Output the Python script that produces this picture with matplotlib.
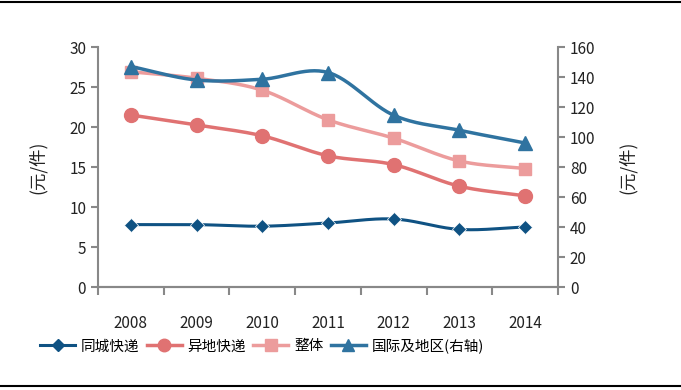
import matplotlib
matplotlib.use('Agg')
import matplotlib.pyplot as plt
import numpy as np

plt.rcParams['font.family'] = ['Noto Sans CJK SC', 'DejaVu Sans']

years = ['2008', '2009', '2010', '2011', '2012', '2013', '2014']
tongcheng = [7.8, 7.8, 7.6, 8.0, 8.5, 7.2, 7.5]          # 同城快递
yidi = [21.5, 20.25, 18.9, 16.4, 15.3, 12.6, 11.4]       # 异地快递
zhengti = [26.9, 26.1, 24.6, 20.9, 18.6, 15.75, 14.8]    # 整体
guoji = [147, 138, 138.5, 143, 114.5, 104.5, 96]         # 国际及地区(右轴)


def smooth(x, y, n=30):
    # catmull-rom style curve through the points (like excel "smoothed line")
    x = np.asarray(x, float)
    y = np.asarray(y, float)
    px = np.concatenate([[2*x[0]-x[1]], x, [2*x[-1]-x[-2]]])
    py = np.concatenate([[2*y[0]-y[1]], y, [2*y[-1]-y[-2]]])
    xs, ys = [], []
    t = np.linspace(0, 1, n)
    for i in range(1, len(px)-2):
        for arr, out in ((px, xs), (py, ys)):
            p0, p1, p2, p3 = arr[i-1], arr[i], arr[i+1], arr[i+2]
            out.extend(0.5*((2*p1) + (-p0+p2)*t + (2*p0-5*p1+4*p2-p3)*t**2
                            + (-p0+3*p1-3*p2+p3)*t**3))
    return xs, ys


fig = plt.figure(figsize=(6.81, 3.90), dpi=100)
ax = fig.add_axes([98/681, 1-287/390, 460/681, 240/390])
ax2 = ax.twinx()

x = np.arange(len(years))
c1 = '#0f5283'
c2 = '#e07272'
c3 = '#ec9c9c'
c4 = '#2f73a0'

ax.plot(*smooth(x, tongcheng), color=c1, lw=2.2)
ax.plot(x, tongcheng, 'D', color=c1, ms=7, mec='white', mew=0.5)
ax.plot(*smooth(x, yidi), color=c2, lw=2.5)
ax.plot(x, yidi, 'o', color=c2, ms=10)
ax.plot(*smooth(x, zhengti), color=c3, lw=2.5)
ax.plot(x, zhengti, 's', color=c3, ms=9)
ax2.plot(*smooth(x, guoji), color=c4, lw=2.5)
ax2.plot(x, guoji, '^', color=c4, ms=10)

ax.set_xlim(-0.5, 6.5)
ax.set_ylim(0, 30)
ax2.set_ylim(0, 160)
ax.set_yticks(range(0, 31, 5))
ax2.set_yticks(range(0, 161, 20))
ax.set_xticks(np.arange(-0.5, 7, 1))
ax.set_xticklabels([])
ax.set_xticks(x, minor=True)
ax.set_xticklabels(years, minor=True)

gray = '#888888'
for a in (ax, ax2):
    a.spines['top'].set_visible(False)
    for s in a.spines.values():
        s.set_color(gray)
        s.set_linewidth(1.5)
    a.tick_params(axis='y', colors=gray, width=1.5, length=5, labelcolor='#222222', labelsize=11)
ax.spines['right'].set_visible(False)
ax2.spines['left'].set_visible(False)
ax.tick_params(axis='x', which='major', colors=gray, width=1.5, length=6)
ax.tick_params(axis='x', which='minor', length=0, labelsize=11, labelcolor='#222222', pad=20)

fig.text(38/681, 1-167/390, '(元/件)', rotation=90, ha='center', va='center', fontsize=12.5, color='#222222')
fig.text(628/681, 1-167/390, '(元/件)', rotation=90, ha='center', va='center', fontsize=12.5, color='#222222')

h1 = plt.Line2D([], [], color=c1, lw=2.2, marker='D', ms=6)
h2 = plt.Line2D([], [], color=c2, lw=2.5, marker='o', ms=9)
h3 = plt.Line2D([], [], color=c3, lw=2.5, marker='s', ms=8)
h4 = plt.Line2D([], [], color=c4, lw=2.5, marker='^', ms=9)
fig.legend([h1, h2, h3, h4], ['同城快递', '异地快递', '整体', '国际及地区(右轴)'],
           loc='center', bbox_to_anchor=(262/681, 1-346/390), ncol=4, frameon=False,
           fontsize=10.5, handlelength=2.4, columnspacing=0.5, handletextpad=0.4,
           borderpad=0, borderaxespad=0)

fig.add_artist(plt.Line2D([0, 1], [1-2/390, 1-2/390], color='black', lw=1.5))
fig.add_artist(plt.Line2D([0, 1], [1-386/390, 1-386/390], color='black', lw=1.5))

fig.savefig('out.png', dpi=100)
